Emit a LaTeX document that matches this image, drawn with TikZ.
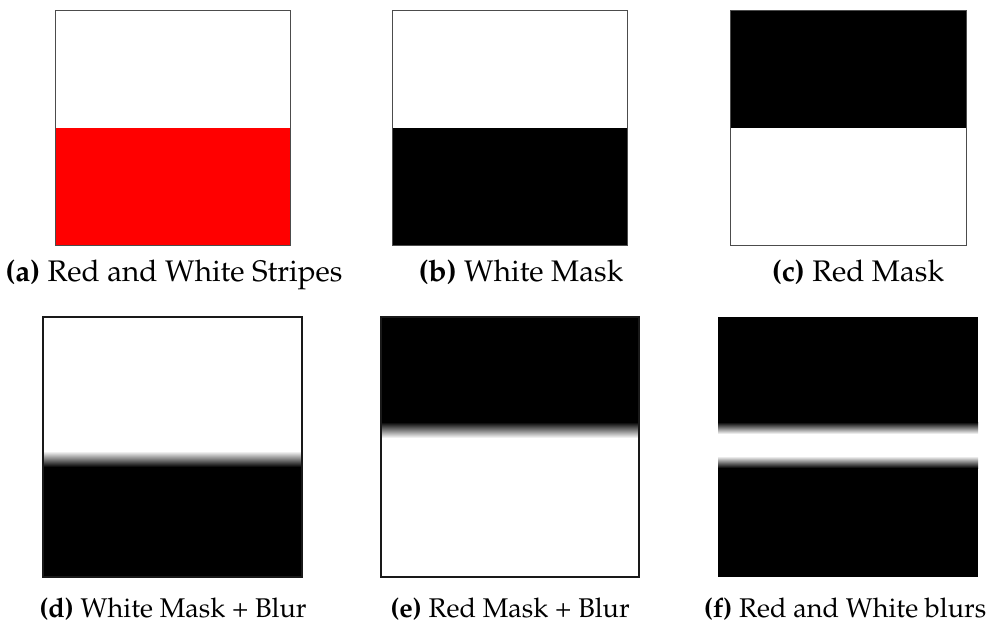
\documentclass[tikz,border=0pt]{standalone}
\usepackage[T1]{fontenc}
\usepackage{mathpazo}
\tikzset{
  panel/.style={draw=black!70, line width=0.3pt},
  blurpanel/.style={draw=black!90, line width=0.4pt},
  subcap/.style={anchor=base, inner sep=0pt},
  bigcap/.style={subcap, font=\fontsize{11}{13}\selectfont},
}
\begin{document}
\begin{tikzpicture}[x=0.37pt, y=-0.37pt]
\useasboundingbox (0,0) rectangle (1006,626);
% top row
\fill[red] (55,128) rectangle (290,245);
\draw[panel] (55,10) rectangle (290,245);
\node[bigcap] (capa) at (174,281) {\textbf{(a)} Red and White Stripes};

\fill[black] (392,128) rectangle (627,245);
\draw[panel] (392,10) rectangle (627,245);
\node[bigcap] (capb) at (521,281) {\textbf{(b)} White Mask};

\fill[black] (730,10) rectangle (966,128);
\draw[panel] (730,10) rectangle (966,245);
\node[bigcap] (capc) at (858,281) {\textbf{(c)} Red Mask};

% bottom row
\fill[black] (43,467) rectangle (302,577);
\shade[top color=white, bottom color=black] (43,451) rectangle (302,467);
\draw[blurpanel] (43,317) rectangle (302,577);
\node[subcap] (capd) at (173,617) {\textbf{(d)} White Mask + Blur};

\fill[black] (381,317) rectangle (639,422);
\shade[top color=black, bottom color=white] (381,422) rectangle (639,438);
\draw[blurpanel] (381,317) rectangle (639,577);
\node[subcap] (cape) at (510,617) {\textbf{(e)} Red Mask + Blur};

\fill[black] (718,317) rectangle (978,577);
\shade[top color=black, bottom color=white] (718,422) rectangle (978,434);
\fill[white] (718,434) rectangle (978,456);
\shade[top color=white, bottom color=black] (718,456) rectangle (978,468);
\node[subcap] (capf) at (845,617) {\textbf{(f)} Red and White blurs};
\end{tikzpicture}
\end{document}
